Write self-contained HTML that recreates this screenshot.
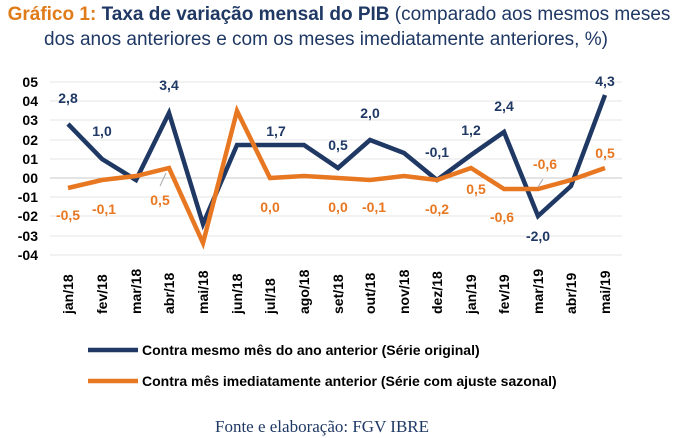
<!DOCTYPE html>
<html><head><meta charset="utf-8"><style>
body{margin:0;width:682px;height:438px;background:#fff;overflow:hidden;font-family:"Liberation Sans",sans-serif}
.t{position:absolute;left:0;width:682px;text-align:center;font-size:19px;color:#1f3864;line-height:24px;white-space:nowrap}
</style></head><body>
<div class="t" style="top:3px;left:-2px"><b style="color:#e07b1a">Gráfico 1:</b> <b>Taxa de variação mensal do PIB</b> (comparado aos mesmos meses</div>
<div class="t" style="top:28px;left:-15px">dos anos anteriores e com os meses imediatamente anteriores, %)</div>
<svg width="682" height="438" style="position:absolute;left:0;top:0" font-family="Liberation Sans, sans-serif" font-weight="bold">
<g stroke="#e6e6e6" stroke-width="1">
<line x1="50" x2="622" y1="82" y2="82"/><line x1="50" x2="622" y1="101" y2="101"/><line x1="50" x2="622" y1="120" y2="120"/><line x1="50" x2="622" y1="140" y2="140"/><line x1="50" x2="622" y1="159" y2="159"/><line x1="50" x2="622" y1="197" y2="197"/><line x1="50" x2="622" y1="216" y2="216"/><line x1="50" x2="622" y1="236" y2="236"/><line x1="50" x2="622" y1="255" y2="255"/>
</g>
<line x1="50" x2="622" y1="178" y2="178" stroke="#c8c8c8"/>
<g font-size="14" fill="#000" text-anchor="end">
<text x="38" y="87">05</text><text x="38" y="106">04</text><text x="38" y="125">03</text><text x="38" y="145">02</text><text x="38" y="164">01</text><text x="38" y="183">00</text><text x="38" y="202">-01</text><text x="38" y="221">-02</text><text x="38" y="241">-03</text><text x="38" y="260">-04</text>
</g>
<polyline fill="none" stroke="#1f3864" stroke-width="4.5" points="68,124 102,159 136,180 169,113 203,224 237,145 270,145 304,145 338,168 370,140 404,153 437,180 471,155 504,132 538,216 571,186 605,95"/>
<polyline fill="none" stroke="#e87722" stroke-width="4.5" points="68,188 102,180 136,176 169,168 203,243 237,111 270,178 304,176 338,178 370,180 404,176 437,180 471,168 504,189 538,189 571,180 605,168"/>
<line x1="166" y1="173" x2="160" y2="186" stroke="#aaa"/>
<line x1="538" y1="187" x2="543" y2="179" stroke="#aaa"/>
<g font-size="14" fill="#1f3864" text-anchor="middle">
<text x="68" y="103">2,8</text><text x="102" y="136">1,0</text><text x="169" y="90">3,4</text><text x="276" y="136">1,7</text><text x="338" y="150">0,5</text><text x="370" y="118">2,0</text><text x="437" y="157">-0,1</text><text x="471" y="135">1,2</text><text x="504" y="111">2,4</text><text x="538" y="241">-2,0</text><text x="605" y="86">4,3</text>
</g>
<g font-size="14" fill="#e87722" text-anchor="middle">
<text x="68" y="220">-0,5</text><text x="104" y="214">-0,1</text><text x="160" y="205">0,5</text><text x="270" y="212">0,0</text><text x="338" y="212">0,0</text><text x="374" y="212">-0,1</text><text x="437" y="214">-0,2</text><text x="476" y="194">0,5</text><text x="502" y="222">-0,6</text><text x="545" y="169">-0,6</text><text x="605" y="158">0,5</text>
</g>
<g font-size="14" fill="#000">
<text transform="translate(73,314) rotate(-90)">jan/18</text><text transform="translate(107,314) rotate(-90)">fev/18</text><text transform="translate(141,314) rotate(-90)">mar/18</text><text transform="translate(174,314) rotate(-90)">abr/18</text><text transform="translate(208,314) rotate(-90)">mai/18</text><text transform="translate(242,314) rotate(-90)">jun/18</text><text transform="translate(275,314) rotate(-90)">jul/18</text><text transform="translate(309,314) rotate(-90)">ago/18</text><text transform="translate(343,314) rotate(-90)">set/18</text><text transform="translate(375,314) rotate(-90)">out/18</text><text transform="translate(409,314) rotate(-90)">nov/18</text><text transform="translate(442,314) rotate(-90)">dez/18</text><text transform="translate(476,314) rotate(-90)">jan/19</text><text transform="translate(509,314) rotate(-90)">fev/19</text><text transform="translate(543,314) rotate(-90)">mar/19</text><text transform="translate(576,314) rotate(-90)">abr/19</text><text transform="translate(610,314) rotate(-90)">mai/19</text>
</g>
<line x1="88" x2="138" y1="350" y2="350" stroke="#1f3864" stroke-width="4.5"/>
<line x1="88" x2="138" y1="381" y2="381" stroke="#e87722" stroke-width="4.5"/>
<g font-size="14" fill="#000"><text x="142" y="355">Contra mesmo mês do ano anterior (Série original)</text><text x="142" y="386">Contra mês imediatamente anterior (Série com ajuste sazonal)</text></g>
<text x="322" y="432" text-anchor="middle" font-family="Liberation Serif, serif" font-weight="normal" font-size="17" fill="#1f3864">Fonte e elaboração: FGV IBRE</text>
</svg>
</body></html>
